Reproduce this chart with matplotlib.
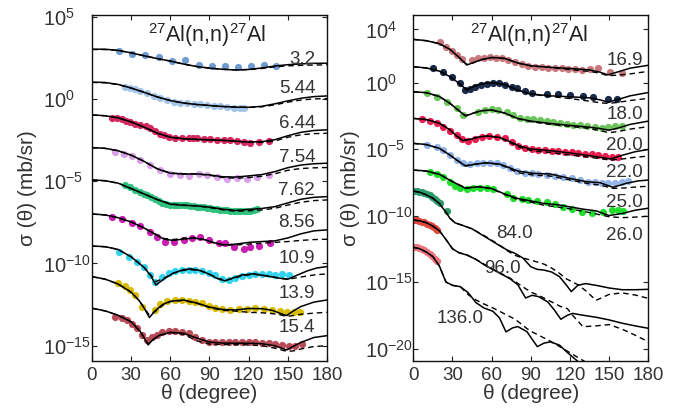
import matplotlib
matplotlib.use('Agg')
import matplotlib.pyplot as plt
import numpy as np
from matplotlib.ticker import NullLocator, FuncFormatter

plt.rcParams['font.family'] = ['Liberation Sans', 'DejaVu Sans']
plt.rcParams['mathtext.fontset'] = 'custom'
plt.rcParams['mathtext.rm'] = 'Liberation Sans'
plt.rcParams['mathtext.it'] = 'Liberation Sans:italic'
plt.rcParams['mathtext.default'] = 'regular'

# ---------------- data (values are log10 of sigma, theta in degrees) -------------
# LEFT PANEL
L32_th = [0,10,20,30,40,50,60,70,80,90,100,110,120,130,140,150,160,170,180]
L32_sol = [3.02,3.02,2.95,2.80,2.62,2.45,2.30,2.12,1.97,1.87,1.80,1.76,1.79,1.88,2.00,2.08,2.13,2.16,2.17]
L32_dsh = [3.00,3.00,2.94,2.80,2.62,2.45,2.30,2.12,1.97,1.87,1.80,1.76,1.78,1.85,1.95,2.01,2.04,2.06,2.07]
L32_pth = [20.4,30.6,40.8,51.5,61.3,71.5,81.7,91.9,102.1,111.8,121.8,131.5,141.2]
L32_pv = [2.92,2.74,2.67,2.53,2.31,2.37,2.07,2.01,2.01,1.93,2.03,2.07,2.03]

L544_th = [0,10,20,30,40,50,60,70,80,90,100,110,120,130,140,150,160,170,180]
L544_sol = [1.02,1.00,0.88,0.66,0.40,0.12,-0.10,-0.25,-0.34,-0.40,-0.46,-0.50,-0.51,-0.45,-0.30,-0.12,0.04,0.14,0.18]
L544_dsh = [1.00,0.98,0.87,0.66,0.40,0.12,-0.10,-0.25,-0.34,-0.40,-0.46,-0.50,-0.52,-0.48,-0.36,-0.20,-0.07,0.00,0.02]
L544_pth = [25.5,29.3,33.2,37.0,42.1,47.2,52.3,57.4,62.5,67.6,72.7,77.8,83.0,88.1,93.2,98.3,103.4,108.5,113.6,116.1]
L544_pv = [0.72,0.67,0.58,0.47,0.34,0.18,0.04,-0.06,-0.16,-0.22,-0.27,-0.30,-0.32,-0.38,-0.42,-0.46,-0.52,-0.56,-0.58,-0.57]

L644_th = [0,10,20,30,40,50,60,70,80,90,100,110,120,130,140,150,160,170,180]
L644_sol = [-0.97,-1.02,-1.15,-1.40,-1.72,-2.08,-2.33,-2.42,-2.46,-2.49,-2.52,-2.57,-2.62,-2.60,-2.48,-2.24,-2.03,-1.92,-1.88]
L644_dsh = [-0.98,-1.03,-1.15,-1.40,-1.72,-2.08,-2.33,-2.42,-2.46,-2.49,-2.52,-2.57,-2.63,-2.64,-2.56,-2.33,-2.18,-2.11,-2.09]
L644_pth = [15.3,19.0,23.0,26.0,29.3,33.0,37.0,41.0,44.7,48.5,52.3,55.5,58.7,63.8,68.9,74.0,77.0,80.4,85.5,90.6,95.7,100.8,105.9,111.0,116.1,121.2,127.6,135.3]
L644_pv = [-1.13,-1.17,-1.22,-1.32,-1.42,-1.50,-1.58,-1.67,-1.78,-1.97,-2.15,-2.22,-2.29,-2.35,-2.39,-2.39,-2.39,-2.39,-2.43,-2.43,-2.47,-2.49,-2.51,-2.55,-2.63,-2.65,-2.59,-2.55]

L754_th = [0,10,20,30,40,50,60,70,80,90,100,110,120,130,140,150,160,170,180]
L754_sol = [-2.96,-3.00,-3.15,-3.42,-3.80,-4.25,-4.52,-4.57,-4.56,-4.62,-4.73,-4.75,-4.68,-4.60,-4.42,-4.18,-4.02,-3.94,-3.91]
L754_dsh = [-2.97,-3.01,-3.15,-3.42,-3.80,-4.25,-4.50,-4.55,-4.56,-4.64,-4.78,-4.82,-4.78,-4.70,-4.55,-4.34,-4.23,-4.19,-4.17]
L754_pth = [17.8,24.2,30.6,37,44.7,52.3,60,67.6,74,81.7,88.1,95.7,103.4,111,118.7,126.3,135.3]
L754_pv = [-3.20,-3.36,-3.50,-3.71,-4.01,-4.32,-4.56,-4.62,-4.66,-4.58,-4.62,-4.72,-4.86,-4.82,-4.86,-4.72,-4.62]

L762_th = [0,10,20,30,40,50,60,70,80,90,100,110,120,130,140,150,160,170,180]
L762_sol = [-4.92,-4.97,-5.12,-5.45,-5.78,-6.12,-6.40,-6.47,-6.50,-6.58,-6.70,-6.78,-6.72,-6.66,-6.55,-6.32,-6.10,-5.98,-5.94]
L762_dsh = [-4.93,-4.98,-5.12,-5.45,-5.78,-6.12,-6.38,-6.45,-6.50,-6.60,-6.74,-6.83,-6.80,-6.75,-6.65,-6.45,-6.28,-6.18,-6.14]
L762_pth = [25.5,29.3,33.2,36.5,39.6,42.1,45.3,48.5,51,53.6,57,60,62.5,65.1,67.6,70.2,72.7,75.3,78,80.4,83,85.5,88,90.6,93,95.7,98,100.8,103.5,105.9,108.5,111,113.5,116.1,118.5,121.2,123.8,126.3]
L762_pv = [-5.23,-5.38,-5.53,-5.68,-5.79,-5.84,-5.98,-6.10,-6.22,-6.34,-6.40,-6.44,-6.44,-6.44,-6.44,-6.44,-6.46,-6.48,-6.51,-6.55,-6.57,-6.59,-6.62,-6.65,-6.68,-6.71,-6.73,-6.75,-6.77,-6.79,-6.81,-6.83,-6.83,-6.83,-6.81,-6.79,-6.75,-6.71]

L856_th = [0,10,20,30,40,50,55,62,70,78,86,94,101,110,120,130,140,150,160,170,180]
L856_sol = [-6.99,-7.05,-7.22,-7.48,-7.85,-8.30,-8.52,-8.60,-8.52,-8.46,-8.55,-8.75,-8.87,-8.83,-8.72,-8.67,-8.63,-8.45,-8.20,-8.02,-7.96]
L856_dsh = [-7.00,-7.06,-7.22,-7.48,-7.85,-8.28,-8.48,-8.55,-8.46,-8.43,-8.55,-8.77,-8.89,-8.88,-8.82,-8.77,-8.72,-8.67,-8.60,-8.55,-8.53]
L856_pth = [15.3,23,30.6,37,44.7,49.8,56.1,62.5,70.2,76.6,83,89.3,97,102.1,108.5,116.1,121.2,127.6,136.6]
L856_pv = [-7.15,-7.32,-7.52,-7.72,-8.07,-8.37,-8.67,-8.67,-8.57,-8.47,-8.37,-8.57,-8.77,-8.73,-9.02,-9.14,-9.02,-8.94,-8.73]

L109_th = [0,10,20,30,40,45,49,55,62,70,76,83,90,96,102,108,115,124,134,144,150,156,165,172,180]
L109_sol = [-8.94,-8.98,-9.15,-9.60,-10.25,-10.75,-11.31,-10.95,-10.60,-10.38,-10.33,-10.43,-10.66,-10.92,-11.06,-10.88,-10.70,-10.63,-10.76,-10.90,-10.96,-10.75,-10.45,-10.28,-10.19]
L109_dsh = [-8.95,-8.99,-9.15,-9.60,-10.25,-10.70,-11.10,-10.90,-10.60,-10.42,-10.38,-10.45,-10.66,-10.90,-11.02,-10.92,-10.75,-10.66,-10.76,-10.90,-10.96,-10.88,-10.76,-10.68,-10.64]
L109_pth = [20.4,28.1,34.5,39.6,44.7,48.5,53.6,58.7,63.8,68.9,74,79.1,84.2,89.3,94.4,99.5,104.6,109.8,114.9,120,125.1,130.2,135.3,140.4,145.5,150.6]
L109_pv = [-9.32,-9.58,-9.89,-10.19,-10.70,-11.10,-10.84,-10.56,-10.43,-10.39,-10.39,-10.39,-10.45,-10.56,-10.72,-10.92,-11.0,-10.88,-10.76,-10.68,-10.63,-10.63,-10.63,-10.68,-10.63,-10.68]

L139_th = [0,10,20,30,36,40,44,48,54,60,70,80,90,100,110,120,130,138,144,149,154,160,170,180]
L139_sol = [-10.80,-10.95,-11.25,-11.75,-12.25,-12.72,-13.29,-12.90,-12.50,-12.30,-12.22,-12.40,-12.65,-12.80,-12.83,-12.74,-12.75,-12.85,-13.03,-13.17,-12.90,-12.62,-12.35,-12.22]
L139_dsh = [-10.81,-10.96,-11.25,-11.75,-12.25,-12.70,-13.15,-12.95,-12.55,-12.32,-12.25,-12.42,-12.68,-12.85,-12.90,-12.97,-13.00,-13.05,-13.12,-13.22,-13.17,-13.09,-13.02,-12.97]
L139_pth = [20,25,29,33.2,38.3,48,52.3,57.4,63.8,68.9,74,79.1,84.2,89.3,94.4,99.5,105.9,112.3,118.7,125.1,131.5,137.8,144.2,149.3,154.4,159.5]
L139_pv = [-11.2,-11.4,-11.6,-11.91,-12.63,-12.8,-12.48,-12.28,-12.22,-12.22,-12.28,-12.32,-12.42,-12.56,-12.72,-12.78,-12.83,-12.78,-12.77,-12.73,-12.77,-12.83,-12.89,-12.97,-12.97,-12.93]

L154_th = [0,10,20,30,37,43,47,52,60,70,80,90,100,110,120,130,140,149,154,160,170,180]
L154_sol = [-12.72,-12.88,-13.15,-13.55,-14.14,-14.95,-14.60,-14.35,-14.19,-14.24,-14.53,-14.78,-14.84,-14.85,-14.85,-14.88,-15.00,-15.26,-15.05,-14.80,-14.50,-14.39]
L154_dsh = [-12.73,-12.89,-13.15,-13.55,-14.14,-14.90,-14.62,-14.38,-14.20,-14.30,-14.70,-14.90,-14.93,-14.94,-14.95,-15.00,-15.15,-15.34,-15.32,-15.20,-15.05,-15.00]
L154_pth = [17.8,23,26.8,30.6,34.4,38.3,42.1,45.9,49.8,53.6,58.7,63.8,68.9,74,79.1,84.2,89.3,94.4,99.5,104.6,109.8,114.9,120,125.1,130.2,135.3,140.4,145.5,150.6,155.7,160.8]
L154_pv = [-13.23,-13.33,-13.43,-13.70,-13.94,-14.35,-14.65,-14.45,-14.35,-14.19,-14.10,-14.10,-14.14,-14.24,-14.45,-14.65,-14.75,-14.79,-14.79,-14.79,-14.79,-14.79,-14.79,-14.79,-14.85,-14.85,-14.91,-14.95,-15.00,-15.00,-14.91]

# RIGHT PANEL
R1_th = [0,10,20,28,35,41,46,52,60,70,80,90,105,120,135,143,149,156,166,180]
R1_sol = [3.25,3.15,2.92,2.50,1.90,1.32,1.50,1.72,1.89,1.82,1.47,1.27,1.14,1.06,0.95,0.78,0.58,0.78,1.08,1.30]
R1_dsh = [3.24,3.14,2.92,2.50,1.90,1.36,1.50,1.72,1.88,1.80,1.47,1.25,1.14,0.98,0.84,0.70,0.52,0.55,0.65,0.84]
R1_pth = [20.4,25,29.4,33.2,37,44.7,49.8,54.2,58.7,63.3,68,72.8,77.9,83,88.1,93.2,98.3,103.4,108.5,113.6,118.7,123.8,129,135.3,141.7,150.7,159.6]
R1_pv = [3.02,2.69,2.37,2.07,1.74,1.69,1.82,1.87,1.89,1.87,1.82,1.72,1.57,1.39,1.27,1.19,1.14,1.11,1.06,1.06,1.01,0.99,0.94,0.99,1.06,0.76,0.69]

R2_th = [0,10,20,28,35,41,46,52,60,70,80,90,105,120,135,143,149,156,166,180]
R2_sol = [1.19,1.10,0.86,0.45,-0.05,-0.57,-0.30,-0.10,0.00,-0.15,-0.57,-0.86,-1.00,-1.07,-1.15,-1.30,-1.47,-1.30,-1.00,-0.75]
R2_dsh = [1.18,1.09,0.86,0.45,-0.05,-0.52,-0.30,-0.10,-0.01,-0.16,-0.57,-0.88,-1.05,-1.20,-1.40,-1.52,-1.57,-1.50,-1.35,-1.19]
R2_pth = [15.3,23,29.4,35.8,39.6,43.4,47.3,51.6,56.2,61.3,65.9,70.2,75.3,79.7,85.5,90.7,102.1,111.1,120,130.2,137.9,149.4,155.8]
R2_pv = [1.06,0.82,0.44,-0.06,-0.56,-0.49,-0.31,-0.19,-0.11,-0.06,-0.06,-0.19,-0.31,-0.44,-0.64,-0.81,-0.86,-0.86,-0.94,-1.02,-1.07,-1.20,-1.20]

R3_th = [0,10,20,28,35,40,46,52,60,70,80,90,105,120,135,143,150,157,166,180]
R3_sol = [-0.69,-0.76,-1.05,-1.56,-2.12,-2.52,-2.30,-2.12,-2.06,-2.29,-2.70,-2.90,-3.08,-3.22,-3.36,-3.46,-3.58,-3.42,-3.15,-2.90]
R3_dsh = [-0.70,-0.77,-1.05,-1.56,-2.12,-2.48,-2.30,-2.12,-2.07,-2.30,-2.72,-2.94,-3.15,-3.30,-3.45,-3.62,-3.77,-3.68,-3.50,-3.32]
R3_pth = [10.2,17.9,25.6,33.2,38.3,49.8,54.9,60,65.1,71.5,76.6,81.7,86.9,91.9,97,102.2,107.2,112.4,117.5,122.5,127.7,132.8,139.2,144.3,149.4,154.5,159.6]
R3_pv = [-0.81,-1.07,-1.44,-1.94,-2.44,-2.19,-2.07,-2.02,-2.07,-2.19,-2.44,-2.69,-2.77,-2.77,-2.82,-2.87,-2.95,-3.02,-3.12,-3.20,-3.20,-3.27,-3.32,-3.40,-3.32,-3.27,-3.27]

R4_th = [0,10,20,28,33,38,44,50,57,66,73,80,90,105,120,135,143,151,160,170,180]
R4_sol = [-2.69,-2.78,-3.06,-3.55,-4.00,-4.37,-4.26,-4.10,-4.02,-4.12,-4.40,-4.72,-5.00,-5.12,-5.30,-5.50,-5.62,-5.75,-5.47,-5.20,-5.03]
R4_dsh = [-2.70,-2.79,-3.06,-3.55,-4.00,-4.33,-4.26,-4.10,-4.02,-4.14,-4.45,-4.82,-5.10,-5.26,-5.45,-5.62,-5.72,-5.83,-5.75,-5.62,-5.53]
R4_pth = [6.4,12.8,17.9,23,28.1,33.2,37,42.1,47.3,52.4,58.2,64.3,70.2,75.3,80.4,85.5,90.7,95.8,100.9,105.9,111.1,116.2,121.3,126.4,131.5,136.6,141.7,146.9,152,157]
R4_pv = [-2.74,-2.87,-3.07,-3.32,-3.62,-3.95,-4.27,-4.37,-4.27,-4.12,-4.02,-4.07,-4.20,-4.45,-4.77,-4.95,-5.03,-5.08,-5.08,-5.13,-5.15,-5.20,-5.25,-5.33,-5.38,-5.40,-5.45,-5.53,-5.58,-5.58]

R5_th = [0,10,20,28,34,40,48,56,66,73,80,92,105,120,133,143,153,163,172,180]
R5_sol = [-4.57,-4.66,-4.95,-5.45,-5.88,-6.28,-6.13,-6.03,-6.13,-6.38,-6.65,-6.83,-6.88,-7.21,-7.46,-7.53,-7.88,-7.58,-7.40,-7.33]
R5_dsh = [-4.58,-4.67,-4.95,-5.45,-5.88,-6.25,-6.13,-6.04,-6.15,-6.45,-6.78,-6.95,-7.03,-7.33,-7.58,-7.71,-7.96,-7.92,-7.84,-7.80]
R5_pth = [10.2,17.9,23,28.1,33.2,38.3,43.4,48.5,53.6,58.7,63.9,69,74.1,79.2,85.6,90.7,95.8,102.2,108.5,114.9,121.3,127.7,134.1,139.2,144.3,149.4,154.5,159.6,164.7]
R5_pv = [-4.70,-4.87,-5.08,-5.45,-5.83,-6.08,-6.15,-6.08,-6.03,-6.03,-6.08,-6.20,-6.45,-6.63,-6.78,-6.83,-6.88,-6.95,-7.03,-7.13,-7.21,-7.33,-7.46,-7.51,-7.53,-7.58,-7.58,-7.48,-7.41]

R6_th = [0,10,20,30,40,50,60,70,80,90,100,110,120,130,140,150,160,170,180]
R6_sol = [-6.58,-6.65,-6.90,-7.45,-7.95,-7.83,-7.97,-8.38,-8.72,-8.90,-9.09,-9.18,-9.35,-9.52,-9.65,-10.00,-9.85,-9.60,-9.45]
R6_dsh = [-6.59,-6.66,-6.90,-7.45,-7.92,-7.83,-7.98,-8.42,-8.80,-9.00,-9.22,-9.35,-9.50,-9.68,-9.88,-10.09,-10.16,-10.12,-10.05]
R6_pth = [12.8,17.9,23,28.1,31.9,35.8,40.9,46,51.1,56.2,61.3,71.5,76.6,83,88.1,94.5,102.1,108.5,114.9,121.3,128.9,136.6,145.5,151.9,157,160.9]
R6_pv = [-6.70,-6.87,-7.13,-7.46,-7.78,-7.91,-8.01,-7.96,-7.91,-7.91,-8.01,-8.41,-8.66,-8.76,-8.83,-8.91,-9.01,-9.16,-9.34,-9.51,-9.71,-9.84,-9.71,-9.59,-9.59,-9.66]

R7_th = [0,5,10,15,20,25,28,32,38,45,55,65,72,78,84,90,95,100,106,112,117,121,126,132,140,150,160,170,180]
R7_sol = [-8.16,-8.25,-8.45,-8.70,-9.10,-9.75,-10.20,-10.55,-10.75,-11.00,-11.60,-12.20,-12.60,-12.85,-13.20,-13.85,-14.05,-14.10,-14.25,-14.60,-15.20,-15.72,-15.25,-15.12,-15.25,-15.45,-15.58,-15.58,-15.55]
R7_dsh = [-8.16,-8.25,-8.45,-8.70,-9.10,-9.75,-10.20,-10.55,-10.75,-11.00,-11.55,-12.15,-12.65,-13.00,-13.20,-13.35,-13.50,-13.65,-13.95,-14.35,-14.75,-14.95,-15.20,-15.65,-16.38,-15.93,-15.82,-15.98,-16.23]
R7_pth = [0.5,2.5,4.5,6.5,8.5,10.5,12.5,14.5,16.5,18.5,20.5,26]
R7_pv = [-8.16,-8.18,-8.21,-8.26,-8.31,-8.38,-8.47,-8.60,-8.74,-8.90,-9.08,-9.66]

R8_th = [0,5,10,15,20,25,30,35,41,48,55,64,74,80,86,91,96,103,108,113,118,122,130,140,150,160,170,180]
R8_sol = [-10.34,-10.40,-10.54,-10.80,-11.15,-11.80,-12.50,-12.80,-12.97,-13.30,-13.75,-14.22,-14.75,-15.20,-16.20,-16.00,-16.10,-16.50,-17.10,-17.80,-17.50,-17.36,-17.50,-17.65,-17.85,-18.10,-18.30,-18.48]
R8_dsh = [-10.34,-10.40,-10.54,-10.80,-11.15,-11.80,-12.50,-12.80,-12.95,-13.30,-13.70,-14.20,-14.70,-15.10,-15.50,-15.80,-16.00,-16.35,-16.60,-16.85,-17.00,-17.50,-18.36,-18.30,-18.20,-18.55,-19.00,-19.49]
R8_pth = [0.5,2.5,4.5,6.5,8.5,10.5,12.5,14.5,16.5,18.5]
R8_pv = [-10.32,-10.35,-10.40,-10.46,-10.52,-10.60,-10.70,-10.82,-10.96,-11.10]

R9_th = [0,5,10,15,20,25,30,36,42,48,54,61,66,71,76,80,87,91,95,100,105,112,118,124,130,135]
R9_sol = [-12.39,-12.50,-12.75,-13.09,-13.80,-15.00,-15.25,-15.35,-15.80,-16.55,-16.95,-17.20,-17.70,-18.75,-18.45,-18.35,-18.73,-19.30,-19.86,-19.60,-19.50,-19.75,-20.30,-20.80,-21.30,-21.70]
R9_dsh = [-12.39,-12.50,-12.75,-13.09,-13.80,-15.00,-15.25,-15.35,-15.95,-16.35,-16.65,-16.95,-17.20,-17.45,-17.70,-17.95,-18.50,-18.75,-18.95,-19.20,-19.45,-19.85,-20.20,-20.55,-20.90,-21.20]
R9_pth = [0.5,2.5,4.5,6.5,8.5,10.5,12.5,14.5,16.5,18]
R9_pv = [-12.35,-12.38,-12.45,-12.52,-12.60,-12.72,-12.88,-13.05,-13.25,-13.42]

# energy labels (text, theta, log10 position)
L_labels = ['3.2', '5.44', '6.44', '7.54', '7.62', '8.56', '10.9', '13.9', '15.4']
L_label_y = [2.41, 0.61, -1.52, -3.59, -5.59, -7.54, -9.67, -11.85, -13.92]
R_labels = ['16.9', '18.0', '20.0', '22.0', '25.0', '26.0', '84.0', '96.0', '136.0']
R_label_x = [176, 176, 176, 176, 176, 176, 77.5, 68.4, 35.8]
R_label_y = [1.69, -2.44, -4.70, -6.80, -9.02, -11.47, -11.32, -13.95, -17.78]

L_colors = ['#6f9bd1', '#a3c5e8', '#d42a5f', '#dba0ea', '#2ec27e', '#c81eb0', '#33d3f0', '#d9bb00', '#b94a58']
R_colors = ['#c9797e', '#1a2a4a', '#6cc55a', '#ea1f4f', '#92b4e8', '#22dd2e', '#2e9b6b', '#e0493c', '#f07480']

L_sets = [(L32_th, L32_sol, L32_dsh, L32_pth, L32_pv),
          (L544_th, L544_sol, L544_dsh, L544_pth, L544_pv),
          (L644_th, L644_sol, L644_dsh, L644_pth, L644_pv),
          (L754_th, L754_sol, L754_dsh, L754_pth, L754_pv),
          (L762_th, L762_sol, L762_dsh, L762_pth, L762_pv),
          (L856_th, L856_sol, L856_dsh, L856_pth, L856_pv),
          (L109_th, L109_sol, L109_dsh, L109_pth, L109_pv),
          (L139_th, L139_sol, L139_dsh, L139_pth, L139_pv),
          (L154_th, L154_sol, L154_dsh, L154_pth, L154_pv)]
R_sets = [(R1_th, R1_sol, R1_dsh, R1_pth, R1_pv),
          (R2_th, R2_sol, R2_dsh, R2_pth, R2_pv),
          (R3_th, R3_sol, R3_dsh, R3_pth, R3_pv),
          (R4_th, R4_sol, R4_dsh, R4_pth, R4_pv),
          (R5_th, R5_sol, R5_dsh, R5_pth, R5_pv),
          (R6_th, R6_sol, R6_dsh, R6_pth, R6_pv),
          (R7_th, R7_sol, R7_dsh, R7_pth, R7_pv),
          (R8_th, R8_sol, R8_dsh, R8_pth, R8_pv),
          (R9_th, R9_sol, R9_dsh, R9_pth, R9_pv)]

# ---------------- figure ----------------
W, H = 698, 415
fig = plt.figure(figsize=(W / 100, H / 100), dpi=100)
axL = fig.add_axes([92 / W, 54 / H, 235 / W, 346 / H])
axR = fig.add_axes([413.3 / W, 54 / H, 235 / W, 346 / H])


def draw(ax, th, sol, dsh, pth, pv, color):
    ax.plot(pth, 10.0 ** np.array(pv), 'o', ms=5.2, color=color, mew=0, zorder=2)
    ax.plot(th, 10.0 ** np.array(dsh), color='k', lw=1.0, dashes=(4.0, 2.8), zorder=3)
    ax.plot(th, 10.0 ** np.array(sol), color='k', lw=1.1, zorder=4)


for s, c in zip(L_sets, L_colors):
    draw(axL, *s, c)
for s, c in zip(R_sets, R_colors):
    draw(axR, *s, c)

for t, y in zip(L_labels, L_label_y):
    axL.text(171, 10 ** y, t, ha='right', va='center', fontsize=13.5, color='#333333', zorder=5)
for t, x, y in zip(R_labels, R_label_x, R_label_y):
    axR.text(x, 10 ** y, t, ha='right' if x > 170 else 'center', va='center', fontsize=13.5,
             color='#333333', zorder=5)

fmt = FuncFormatter(lambda v, p: r'$10^{%d}$' % int(round(np.log10(v))))

for ax in (axL, axR):
    ax.set_yscale('log')
    ax.set_xlim(0, 180)
    ax.set_xticks([0, 30, 60, 90, 120, 150, 180])
    ax.yaxis.set_minor_locator(NullLocator())
    ax.tick_params(direction='in', top=True, right=True, length=3.5, width=0.8,
                   colors='#222222')
    ax.tick_params(axis='x', labelsize=13.5, pad=4, labelcolor='#333333')
    ax.tick_params(axis='y', labelsize=14.5, pad=35, labelcolor='#333333')
    for sp in ax.spines.values():
        sp.set_linewidth(1.0)
        sp.set_color('#111111')
    ax.set_xlabel('θ (degree)', fontsize=15, color='#333333')
    ax.xaxis.set_label_coords(0.5, -0.066)
    ax.set_ylabel('σ (θ) (mb/sr)', fontsize=15, color='#333333')
    ax.text(0.491, 0.923, r'$^{27}$Al(n,n)$^{27}$Al', transform=ax.transAxes,
            ha='center', va='baseline', fontsize=15.5, color='#222222', zorder=6)

axL.set_ylim(10 ** -15.93, 10 ** 5.1)
axL.set_yticks([1e-15, 1e-10, 1e-5, 1e0, 1e5])
axR.set_ylim(10 ** -20.94, 10 ** 5.08)
axR.set_yticks([1e-20, 1e-15, 1e-10, 1e-5, 1e0, 1e4])
for ax in (axL, axR):
    ax.yaxis.set_major_formatter(fmt)
    ax.yaxis.set_minor_locator(NullLocator())
    for t in ax.yaxis.get_major_ticks():
        t.label1.set_horizontalalignment('left')

axL.yaxis.set_label_coords(-0.234, 0.5)
axR.yaxis.set_label_coords(-0.227, 0.5)

fig.savefig('out.png', dpi=100)
